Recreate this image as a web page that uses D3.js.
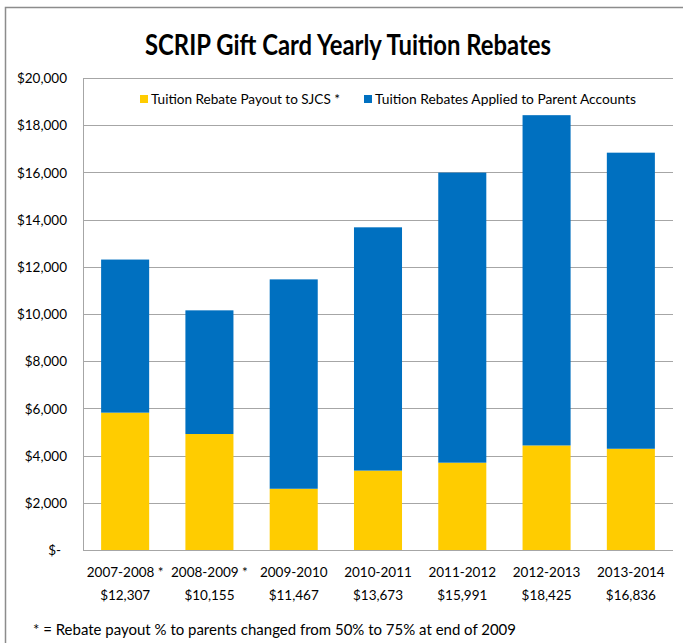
<!DOCTYPE html>
<html>
<head>
<meta charset="utf-8">
<script src="https://cdn.jsdelivr.net/npm/d3@7"></script>
<style>
  body { margin: 0; background: #fff; }
  svg text { font-family: Lato, "Open Sans", sans-serif; fill: #000; }
</style>
</head>
<body>
<div id="chart"></div>
<script>
// Chart data
var years = ['2007-2008 *', '2008-2009 *', '2009-2010', '2010-2011', '2011-2012', '2012-2013', '2013-2014'];
var totals = [12307, 10155, 11467, 13673, 15991, 18425, 16836];
var payoutSJCS = [5820, 4915, 2595, 3365, 3700, 4430, 4290];
var appliedParents = [6487, 5240, 8872, 10308, 12291, 13995, 12546];
var seriesNames = ['Tuition Rebate Payout to SJCS *', 'Tuition Rebates Applied to Parent Accounts'];
var seriesColors = ['#FFCC00', '#0070C0'];
var yTicks = [0, 2000, 4000, 6000, 8000, 10000, 12000, 14000, 16000, 18000, 20000];

const width = 683;
const height = 643;
const plot = { left: 83, right: 673, top: 78, bottom: 550 };

const svg = d3.select('#chart')
    .append('svg')
    .attr('width', width)
    .attr('height', height);

// outer frame (top + left edge only visible)
svg.append('path')
    .attr('d', 'M5.5,643 L5.5,7.5 L683,7.5')
    .attr('fill', 'none')
    .attr('stroke', '#8c8c8c')
    .attr('stroke-width', 1.5);

// title
svg.append('text')
    .attr('x', 348)
    .attr('y', 55)
    .attr('text-anchor', 'middle')
    .attr('textLength', 406)
    .attr('lengthAdjust', 'spacingAndGlyphs')
    .style('font-size', '28px')
    .style('font-weight', 'bold')
    .text('SCRIP Gift Card Yearly Tuition Rebates');

const x = d3.scaleBand()
    .domain(years)
    .range([plot.left, plot.right])
    .paddingInner(0.43)
    .paddingOuter(0.215);

const y = d3.scaleLinear()
    .domain([0, 20000])
    .range([plot.bottom, plot.top]);

// gridlines
svg.append('g')
    .selectAll('line')
    .data(yTicks.slice(1))
    .enter()
    .append('line')
    .attr('x1', plot.left)
    .attr('x2', plot.right)
    .attr('y1', d => Math.round(y(d)) + 0.5)
    .attr('y2', d => Math.round(y(d)) + 0.5)
    .attr('stroke', '#a6a6a6')
    .attr('stroke-width', 1);

// y axis labels
const fmt = d3.format(',');
const yAxis = d3.axisLeft(y)
    .tickValues(yTicks)
    .tickSize(0)
    .tickPadding(0)
    .tickFormat(d => d === 0 ? '$-' : '$' + fmt(d));

svg.append('g')
    .attr('transform', 'translate(67,0)')
    .call(yAxis)
    .call(g => g.select('.domain').remove())
    .call(g => g.selectAll('text')
        .style('font-size', '13.5px')
        .style('font-family', 'Lato, sans-serif')
        .attr('dy', '0.35em'))
    .call(g => g.selectAll('.tick').filter(d => d === 0).select('text').attr('x', -6));

// stacked bars
const stackData = years.map((yr, i) => ({ year: yr, sjcs: payoutSJCS[i], parents: appliedParents[i] }));
const stack = d3.stack().keys(['sjcs', 'parents']);
const layers = stack(stackData);

svg.append('g')
    .selectAll('g')
    .data(layers)
    .enter()
    .append('g')
    .attr('fill', (d, i) => seriesColors[i])
    .selectAll('rect')
    .data(d => d)
    .enter()
    .append('rect')
    .attr('x', d => x(d.data.year))
    .attr('width', x.bandwidth())
    .attr('y', d => y(d[1]))
    .attr('height', d => y(d[0]) - y(d[1]));

// axis lines
svg.append('line')
    .attr('x1', plot.left + 0.5).attr('x2', plot.left + 0.5)
    .attr('y1', plot.top).attr('y2', plot.bottom)
    .attr('stroke', '#a6a6a6');
svg.append('line')
    .attr('x1', plot.left).attr('x2', plot.right)
    .attr('y1', plot.bottom + 0.5).attr('y2', plot.bottom + 0.5)
    .attr('stroke', '#a6a6a6');

// category labels with totals
const cat = svg.append('g')
    .selectAll('g')
    .data(years)
    .enter()
    .append('g')
    .attr('transform', d => 'translate(' + (x(d) + x.bandwidth() / 2) + ',0)');

cat.append('text')
    .attr('y', 577)
    .attr('text-anchor', 'middle')
    .style('font-size', '13.5px')
    .text(d => d);

cat.append('text')
    .attr('y', 600)
    .attr('text-anchor', 'middle')
    .style('font-size', '13.5px')
    .text((d, i) => '$' + fmt(totals[i]));

// legend
const legendX = [140, 364];
const legendW = [189, 261];
const legend = svg.append('g')
    .selectAll('g')
    .data(seriesNames)
    .enter()
    .append('g')
    .attr('transform', (d, i) => 'translate(' + legendX[i] + ',99)');

legend.append('rect')
    .attr('x', 0)
    .attr('y', -4)
    .attr('width', 8)
    .attr('height', 8)
    .attr('fill', (d, i) => seriesColors[i]);

legend.append('text')
    .attr('x', 11)
    .attr('dy', '0.35em')
    .attr('textLength', (d, i) => legendW[i])
    .attr('lengthAdjust', 'spacingAndGlyphs')
    .style('font-size', '14px')
    .text(d => d);

// footnote
svg.append('text')
    .attr('x', 33)
    .attr('y', 635)
    .attr('textLength', 483)
    .attr('lengthAdjust', 'spacingAndGlyphs')
    .style('font-size', '15px')
    .text('* = Rebate payout % to parents changed from 50% to 75% at end of 2009');
</script>
</body>
</html>
